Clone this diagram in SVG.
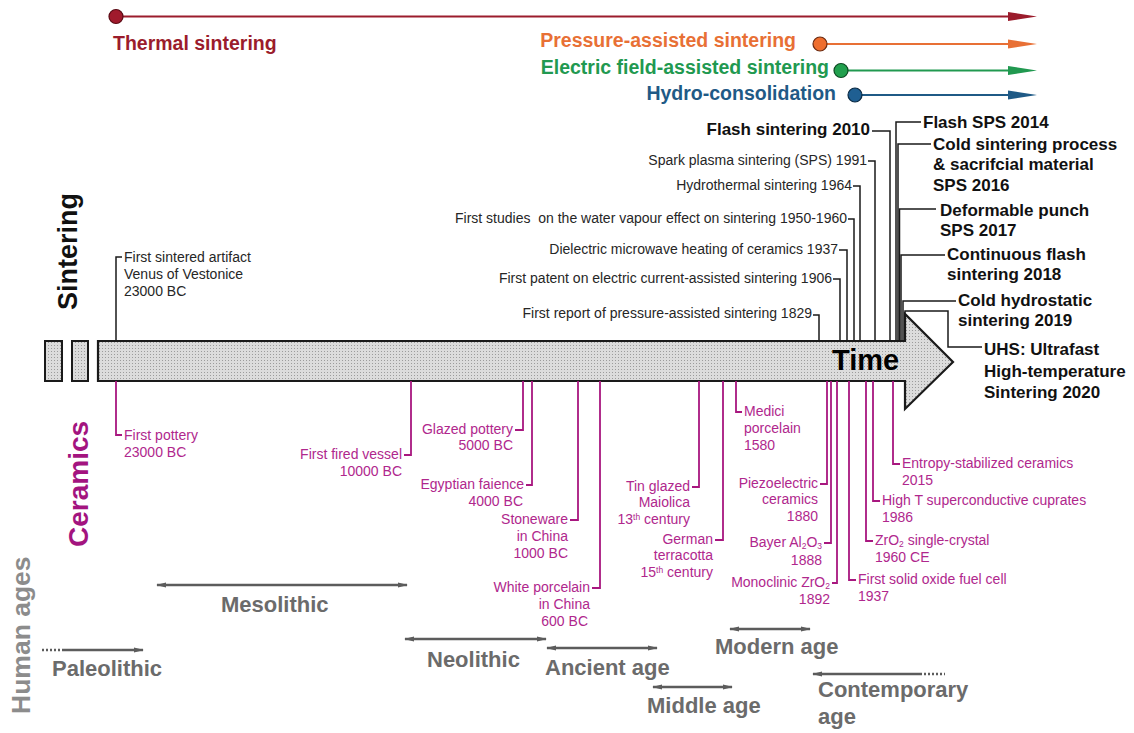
<svg xmlns="http://www.w3.org/2000/svg" width="1134" height="733" viewBox="0 0 1134 733">
<style>
text{font-family:"Liberation Sans",Arial,Helvetica,sans-serif}
.r{font-size:14px;fill:#262626}
.rb{font-size:17px;font-weight:bold;fill:#111}
.m{font-size:14px;fill:#b0278d}
.ag{font-size:22px;font-weight:bold;fill:#6b6b6b}
.e{text-anchor:end}
.top{font-size:19.5px;font-weight:bold}
.kl{fill:none;stroke:#1a1a1a;stroke-width:1.5}
.ml{fill:none;stroke:#a8177f;stroke-width:1.8}
.agl{fill:none;stroke:#5c5c5c;stroke-width:2.5}
.dot{stroke-dasharray:2 2}
.sub{font-size:8.5px}
</style>
<defs>
<pattern id="dots" width="3" height="3" patternUnits="userSpaceOnUse"><rect width="3" height="3" fill="#dcdcdc"/><rect width="1" height="1" fill="#9c9c9c"/></pattern>
<marker id="ah" viewBox="0 0 10 6" refX="9" refY="3" markerWidth="10" markerHeight="6" markerUnits="userSpaceOnUse" orient="auto-start-reverse"><path d="M0,0.5 L10,3 L0,5.5 Z" fill="#5c5c5c"/></marker>
</defs>
<rect width="1134" height="733" fill="#fff"/>

<g id="process-lines">
<g id="thermal">
<line x1="116" y1="16.5" x2="1012" y2="16.5" stroke="#9b1c2c" stroke-width="2"/>
<polygon points="1008,12 1037,16.5 1008,21" fill="#9b1c2c"/>
<circle cx="116" cy="16.5" r="7" fill="#a01a2c" stroke="#5a0a14" stroke-width="1.2"/>
<text class="top" x="113" y="50" fill="#9b1c2c">Thermal sintering</text>
</g>
<g id="pressure">
<line x1="820" y1="44" x2="1012" y2="44" stroke="#e87035" stroke-width="2"/>
<polygon points="1008,39.5 1037,44 1008,48.5" fill="#e87035"/>
<circle cx="820" cy="44" r="7" fill="#ee6e2e" stroke="#6a2a10" stroke-width="1.2"/>
<text class="top e" x="796" y="47" fill="#e87035">Pressure-assisted sintering</text>
</g>
<g id="electric">
<line x1="841" y1="70.5" x2="1012" y2="70.5" stroke="#219950" stroke-width="2"/>
<polygon points="1008,66 1037,70.5 1008,75" fill="#219950"/>
<circle cx="841" cy="70.5" r="7" fill="#22a04e" stroke="#0d4a22" stroke-width="1.2"/>
<text class="top e" x="829" y="74" fill="#219950">Electric field-assisted sintering</text>
</g>
<g id="hydro">
<line x1="855" y1="95" x2="1012" y2="95" stroke="#1f5a86" stroke-width="2"/>
<polygon points="1008,90.5 1037,95 1008,99.5" fill="#1f5a86"/>
<circle cx="855" cy="95" r="7" fill="#1f5f92" stroke="#0a2a44" stroke-width="1.2"/>
<text class="top e" x="836" y="100" fill="#1f5a86">Hydro-consolidation</text>
</g>
</g>

<g id="axis-titles">
<text x="77" y="310" transform="rotate(-90 77 310)" font-size="27" font-weight="bold" fill="#111">Sintering</text>
<text x="88" y="547" transform="rotate(-90 88 547)" font-size="28" font-weight="bold" fill="#a3147f">Ceramics</text>
<text x="30" y="714" transform="rotate(-90 30 714)" font-size="26.5" font-weight="bold" fill="#8c8c8c">Human ages</text>
</g>

<g id="time-arrow">
<rect x="45" y="341" width="17" height="40" fill="url(#dots)" stroke="#1a1a1a" stroke-width="2"/>
<rect x="72" y="341" width="16" height="40" fill="url(#dots)" stroke="#1a1a1a" stroke-width="2"/>
<path d="M98,341 H905 V314 L953,362 L905,409 V381 H98 Z" fill="url(#dots)" stroke="#1a1a1a" stroke-width="2.2" stroke-linejoin="miter"/>
<text x="832" y="370" font-size="29" font-weight="bold" fill="#000">Time</text>
</g>

<g id="connectors">
<path class="kl" d="M122,257 H116 V341"/>
<path class="kl" d="M813,315 H819 V341"/>
<path class="kl" d="M833,279 H840 V341"/>
<path class="kl" d="M839,250 H847 V341"/>
<path class="kl" d="M848,219 H854 V341"/>
<path class="kl" d="M853,186 H860 V341"/>
<path class="kl" d="M868,161 H875 V341"/>
<path class="kl" d="M872,131 H890 V341"/>
<path class="kl" d="M921,122 H896 V341"/>
<path class="kl" d="M931,144 H898 V341"/>
<path class="kl" d="M936,209 H899.5 V341"/>
<path class="kl" d="M945,255 H901 V341"/>
<path class="kl" d="M956,301 H903 V341"/>
<path class="kl" d="M905,341 V311 H948 V347 H982"/>
<path class="ml" d="M116,381 V435 H122"/>
<path class="ml" d="M411,381 V455 H404"/>
<path class="ml" d="M523,381 V430 H515"/>
<path class="ml" d="M532,381 V485 H526"/>
<path class="ml" d="M578,381 V520 H570"/>
<path class="ml" d="M600,381 V588 H592"/>
<path class="ml" d="M699,381 V487 H692"/>
<path class="ml" d="M723,381 V540 H715"/>
<path class="ml" d="M736,381 V412 H742"/>
<path class="ml" d="M827,381 V484 H820"/>
<path class="ml" d="M831,381 V543 H824"/>
<path class="ml" d="M837,381 V583 H832"/>
<path class="ml" d="M849,381 V580 H856"/>
<path class="ml" d="M866,381 V541 H873"/>
<path class="ml" d="M873,381 V501 H880"/>
<path class="ml" d="M893,381 V464 H900"/>
<line class="agl" x1="157" y1="585" x2="407" y2="585" marker-start="url(#ah)" marker-end="url(#ah)"/>
<line class="agl dot" x1="42" y1="650" x2="62" y2="650"/>
<line class="agl" x1="62" y1="650" x2="143" y2="650" marker-end="url(#ah)"/>
<line class="agl" x1="405" y1="639" x2="546" y2="639" marker-start="url(#ah)" marker-end="url(#ah)"/>
<line class="agl" x1="547" y1="648" x2="657" y2="648" marker-start="url(#ah)" marker-end="url(#ah)"/>
<line class="agl" x1="653" y1="687" x2="732" y2="687" marker-start="url(#ah)" marker-end="url(#ah)"/>
<line class="agl" x1="730" y1="629" x2="810" y2="629" marker-start="url(#ah)" marker-end="url(#ah)"/>
<line class="agl" x1="920" y1="674" x2="813" y2="674" marker-end="url(#ah)"/>
<line class="agl dot" x1="920" y1="674" x2="945" y2="674"/>
</g>

<g id="sintering-events">
<g id="venus"><text class="r" x="124" y="262">First sintered artifact</text><text class="r" x="124" y="279">Venus of Vestonice</text><text class="r" x="124" y="296">23000 BC</text></g>
<g id="ev1829"><text class="r e" x="812" y="318">First report of pressure-assisted sintering 1829</text></g>
<g id="ev1906"><text class="r e" x="832" y="283">First patent on electric current-assisted sintering 1906</text></g>
<g id="ev1937"><text class="r e" x="838" y="254">Dielectric microwave heating of ceramics 1937</text></g>
<g id="ev1950"><text class="r e" x="847" y="223" xml:space="preserve">First studies  on the water vapour effect on sintering 1950-1960</text></g>
<g id="ev1964"><text class="r e" x="852" y="190">Hydrothermal sintering 1964</text></g>
<g id="ev1991"><text class="r e" x="867" y="165">Spark plasma sintering (SPS) 1991</text></g>
<g id="ev2010"><text class="rb e" x="870" y="135">Flash sintering 2010</text></g>
<g id="ev2014"><text class="rb" x="923" y="128">Flash SPS 2014</text></g>
<g id="ev2016"><text class="rb" x="933" y="150">Cold sintering process</text><text class="rb" x="933" y="170">&amp; sacrifcial material</text><text class="rb" x="933" y="191">SPS 2016</text></g>
<g id="ev2017"><text class="rb" x="940" y="216">Deformable punch</text><text class="rb" x="940" y="236">SPS 2017</text></g>
<g id="ev2018"><text class="rb" x="947" y="260">Continuous flash</text><text class="rb" x="947" y="280">sintering 2018</text></g>
<g id="ev2019"><text class="rb" x="958" y="306">Cold hydrostatic</text><text class="rb" x="958" y="326">sintering 2019</text></g>
<g id="ev2020"><text class="rb" x="984" y="355">UHS: Ultrafast</text><text class="rb" x="984" y="377">High-temperature</text><text class="rb" x="984" y="398">Sintering 2020</text></g>
</g>

<g id="ceramic-events">
<g id="pottery"><text class="m" x="124" y="440">First pottery</text><text class="m" x="124" y="457">23000 BC</text></g>
<g id="vessel"><text class="m e" x="402" y="459">First fired vessel</text><text class="m e" x="402" y="476">10000 BC</text></g>
<g id="glazed"><text class="m e" x="513" y="434">Glazed pottery</text><text class="m e" x="513" y="450">5000 BC</text></g>
<g id="faience"><text class="m e" x="524" y="489">Egyptian faience</text><text class="m e" x="523" y="506">4000 BC</text></g>
<g id="stoneware"><text class="m e" x="568" y="524">Stoneware</text><text class="m e" x="568" y="541">in China</text><text class="m e" x="568" y="558">1000 BC</text></g>
<g id="white-porcelain"><text class="m e" x="590" y="592">White porcelain</text><text class="m e" x="590" y="609">in China</text><text class="m e" x="588" y="626">600 BC</text></g>
<g id="maiolica"><text class="m e" x="690" y="491">Tin glazed</text><text class="m e" x="690" y="507">Maiolica</text><text class="m e" x="690" y="524">13<tspan class="sub" baseline-shift="4">th</tspan> century</text></g>
<g id="terracotta"><text class="m e" x="713" y="544">German</text><text class="m e" x="713" y="560">terracotta</text><text class="m e" x="713" y="577">15<tspan class="sub" baseline-shift="4">th</tspan> century</text></g>
<g id="medici"><text class="m" x="744" y="416">Medici</text><text class="m" x="744" y="433">porcelain</text><text class="m" x="744" y="450">1580</text></g>
<g id="piezo"><text class="m e" x="818" y="488">Piezoelectric</text><text class="m e" x="818" y="504">ceramics</text><text class="m e" x="818" y="521">1880</text></g>
<g id="bayer"><text class="m e" x="822" y="547">Bayer Al<tspan class="sub" baseline-shift="-2">2</tspan>O<tspan class="sub" baseline-shift="-2">3</tspan></text><text class="m e" x="822" y="565">1888</text></g>
<g id="monoclinic"><text class="m e" x="830" y="587">Monoclinic ZrO<tspan class="sub" baseline-shift="-2">2</tspan></text><text class="m e" x="830" y="604">1892</text></g>
<g id="fuelcell"><text class="m" x="858" y="584">First solid oxide fuel cell</text><text class="m" x="858" y="601">1937</text></g>
<g id="zro2"><text class="m" x="875" y="545">ZrO<tspan class="sub" baseline-shift="-2">2</tspan> single-crystal</text><text class="m" x="875" y="562">1960 CE</text></g>
<g id="cuprates"><text class="m" x="882" y="505">High T superconductive cuprates</text><text class="m" x="882" y="522">1986</text></g>
<g id="entropy"><text class="m" x="902" y="468">Entropy-stabilized ceramics</text><text class="m" x="902" y="485">2015</text></g>
</g>

<g id="human-ages">
<g id="mesolithic"><text class="ag" x="221" y="612">Mesolithic</text></g>
<g id="paleolithic"><text class="ag" x="52" y="676">Paleolithic</text></g>
<g id="neolithic"><text class="ag" x="427" y="667">Neolithic</text></g>
<g id="ancient"><text class="ag" x="545" y="675">Ancient age</text></g>
<g id="middle"><text class="ag" x="647" y="713">Middle age</text></g>
<g id="modern"><text class="ag" x="715" y="654">Modern age</text></g>
<g id="contemporary"><text class="ag" x="818" y="697">Contemporary</text><text class="ag" x="818" y="724">age</text></g>
</g>
</svg>
